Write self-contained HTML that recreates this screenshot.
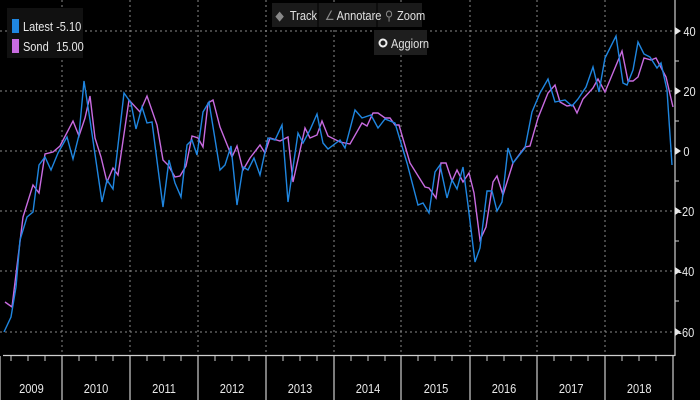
<!DOCTYPE html>
<html><head><meta charset="utf-8"><style>
html,body{margin:0;padding:0;background:#000;}
svg{display:block;font-family:"Liberation Sans",sans-serif;}
</style></head><body>
<svg width="700" height="400" viewBox="0 0 700 400" xmlns="http://www.w3.org/2000/svg">
<rect width="700" height="400" fill="#000"/>
<g stroke="#8a8a8a" stroke-width="1" stroke-dasharray="2,3" fill="none">
<line x1="0" y1="31" x2="675" y2="31"/><line x1="0" y1="91" x2="675" y2="91"/>
<line x1="0" y1="151" x2="675" y2="151"/><line x1="0" y1="211" x2="675" y2="211"/>
<line x1="0" y1="271" x2="675" y2="271"/><line x1="0" y1="332" x2="675" y2="332"/>
<line x1="62" y1="0" x2="62" y2="355"/><line x1="130" y1="0" x2="130" y2="355"/>
<line x1="198" y1="0" x2="198" y2="355"/><line x1="266" y1="0" x2="266" y2="355"/>
<line x1="334" y1="0" x2="334" y2="355"/><line x1="401" y1="0" x2="401" y2="355"/>
<line x1="470" y1="0" x2="470" y2="355"/><line x1="537" y1="0" x2="537" y2="355"/>
<line x1="605" y1="0" x2="605" y2="355"/>
</g>
<polyline fill="none" stroke="#c86be0" stroke-width="1.4" points="5,302 12,307 23,217 33,185 39,193 45,154 53,152 60,146 73,121 79,136 85,118 90,96 95,138 101,157 107,182 113,168 118,175 129,100 140,112 147,96 157,125 163,160 168,165 175,177 180,176 186,166 192,136 198,138 203,147 208,103 213,100 220,127 232,157 237,146 243,170 250,158 260,145 265,153 270,138 280,141 288,137 293,182 305,128 310,138 317,135 322,121 328,136 340,142 350,144 362,123 367,126 373,113 378,113 385,118 390,118 395,125 399,125 410,163 425,187 429,188 436,198 441,163 446,163 452,181 457,170 463,182 469,173 474,193 480,240 486,227 493,182 497,176 503,195 513,163 525,147 530,146 538,118 548,93 555,85 560,102 567,106 573,105 577,113 583,99 593,88 598,79 605,92 622,51 628,81 633,81 638,77 644,58 651,60 656,58 666,77 673,107"/>
<polyline fill="none" stroke="#1f86e0" stroke-width="1.4" points="4,332 11,317 16,287 20,240 27,217 33,212 39,165 45,157 51,170 58,153 67,137 73,159 79,135 84,81 90,120 102,202 107,180 113,189 124,93 131,103 136,129 142,107 147,123 152,122 163,207 169,160 175,183 181,197 187,145 192,140 197,155 203,112 209,102 220,170 225,165 231,146 237,205 243,167 248,170 254,158 260,175 268,138 275,140 282,125 288,202 298,133 303,143 310,130 317,114 323,143 328,149 340,140 345,148 355,110 362,118 371,115 378,128 385,119 395,123 407,163 418,205 423,203 429,213 435,172 440,165 447,198 452,180 457,189 463,167 468,205 475,262 480,248 487,191 492,191 497,211 502,202 508,148 513,163 525,148 532,112 540,93 548,79 555,102 565,100 572,106 578,99 586,87 593,67 599,92 605,58 616,36 623,83 627,85 633,70 638,42 644,54 650,57 657,68 661,63 667,90 672,165"/>
<g stroke="#cfcfcf" stroke-width="1.2" fill="none">
<line x1="675" y1="0" x2="675" y2="356"/>
<line x1="3" y1="355.5" x2="675" y2="355.5"/>
<line x1="0" y1="356" x2="0" y2="400"/>
<line x1="62" y1="356" x2="62" y2="400"/><line x1="130" y1="356" x2="130" y2="400"/>
<line x1="198" y1="356" x2="198" y2="400"/><line x1="266" y1="356" x2="266" y2="400"/>
<line x1="334" y1="356" x2="334" y2="400"/><line x1="401" y1="356" x2="401" y2="400"/>
<line x1="470" y1="356" x2="470" y2="400"/><line x1="537" y1="356" x2="537" y2="400"/>
<line x1="605" y1="356" x2="605" y2="400"/><line x1="673" y1="356" x2="673" y2="400"/>
</g>
<g stroke="#cfcfcf" stroke-width="1">
<line x1="11" y1="356" x2="11" y2="361"/><line x1="28" y1="356" x2="28" y2="361"/><line x1="45" y1="356" x2="45" y2="361"/>
<line x1="79" y1="356" x2="79" y2="361"/><line x1="96" y1="356" x2="96" y2="361"/><line x1="113" y1="356" x2="113" y2="361"/>
<line x1="147" y1="356" x2="147" y2="361"/><line x1="164" y1="356" x2="164" y2="361"/><line x1="181" y1="356" x2="181" y2="361"/>
<line x1="215" y1="356" x2="215" y2="361"/><line x1="232" y1="356" x2="232" y2="361"/><line x1="249" y1="356" x2="249" y2="361"/>
<line x1="283" y1="356" x2="283" y2="361"/><line x1="300" y1="356" x2="300" y2="361"/><line x1="317" y1="356" x2="317" y2="361"/>
<line x1="351" y1="356" x2="351" y2="361"/><line x1="368" y1="356" x2="368" y2="361"/><line x1="385" y1="356" x2="385" y2="361"/>
<line x1="418" y1="356" x2="418" y2="361"/><line x1="435" y1="356" x2="435" y2="361"/><line x1="452" y1="356" x2="452" y2="361"/>
<line x1="487" y1="356" x2="487" y2="361"/><line x1="504" y1="356" x2="504" y2="361"/><line x1="521" y1="356" x2="521" y2="361"/>
<line x1="554" y1="356" x2="554" y2="361"/><line x1="571" y1="356" x2="571" y2="361"/><line x1="588" y1="356" x2="588" y2="361"/>
<line x1="622" y1="356" x2="622" y2="361"/><line x1="639" y1="356" x2="639" y2="361"/><line x1="656" y1="356" x2="656" y2="361"/>
<line x1="675" y1="61" x2="679" y2="61"/><line x1="675" y1="121" x2="679" y2="121"/><line x1="675" y1="181" x2="679" y2="181"/>
<line x1="675" y1="241" x2="679" y2="241"/><line x1="675" y1="301" x2="679" y2="301"/>
</g>
<g fill="#e8e8e8">
<polygon points="675,27 681,31 675,35"/><polygon points="675,87 681,91 675,95"/>
<polygon points="675,147 681,151 675,155"/><polygon points="675,207 681,211 675,215"/>
<polygon points="675,267 681,271 675,275"/><polygon points="675,328 681,332 675,336"/>
</g>
<g fill="#e8e8e8" font-size="13" transform="scale(0.85,1)">
<text x="804" y="36">40</text><text x="804" y="96">20</text><text x="804" y="156">0</text>
<text x="798" y="216">-20</text><text x="798" y="276">-40</text><text x="798" y="337">-60</text>
</g>
<g fill="#e8e8e8" font-size="13" text-anchor="middle" transform="scale(0.85,1)">
<text x="37" y="393">2009</text><text x="113" y="393">2010</text><text x="193" y="393">2011</text>
<text x="273" y="393">2012</text><text x="353" y="393">2013</text><text x="433" y="393">2014</text>
<text x="513" y="393">2015</text><text x="593" y="393">2016</text><text x="672" y="393">2017</text><text x="752" y="393">2018</text>
</g>
<rect x="7" y="8" width="76" height="50" fill="#111"/>
<rect x="12" y="19" width="7" height="14" fill="#1f86e0"/>
<rect x="12" y="39" width="7" height="14" fill="#c86be0"/>
<g fill="#e8e8e8" font-size="13" transform="scale(0.85,1)">
<text x="27" y="31">Latest</text><text x="66" y="31">-5.10</text>
<text x="27" y="51">Sond</text><text x="66" y="51">15.00</text>
</g>
<rect x="272" y="3" width="150" height="24" fill="#1a1a1a"/>
<line x1="318" y1="3" x2="318" y2="27" stroke="#000"/><line x1="377" y1="3" x2="377" y2="27" stroke="#000"/>
<rect x="374" y="30" width="53" height="25" fill="#1e1e1e"/>
<circle cx="383" cy="43" r="3.5" fill="none" stroke="#eee" stroke-width="2"/>
<g fill="#e0e0e0" font-size="13" transform="scale(0.85,1)">
<text x="324" y="20" fill="#888">◆</text>
<text x="341" y="20">Track</text>
<text x="382" y="20" fill="#888">∠</text><text x="396" y="20">Annotare</text>
<text x="453" y="20" fill="#888">⚲</text><text x="467" y="20">Zoom</text>
<text x="460" y="48">Aggiorn</text>
</g>
</svg>
</body></html>
